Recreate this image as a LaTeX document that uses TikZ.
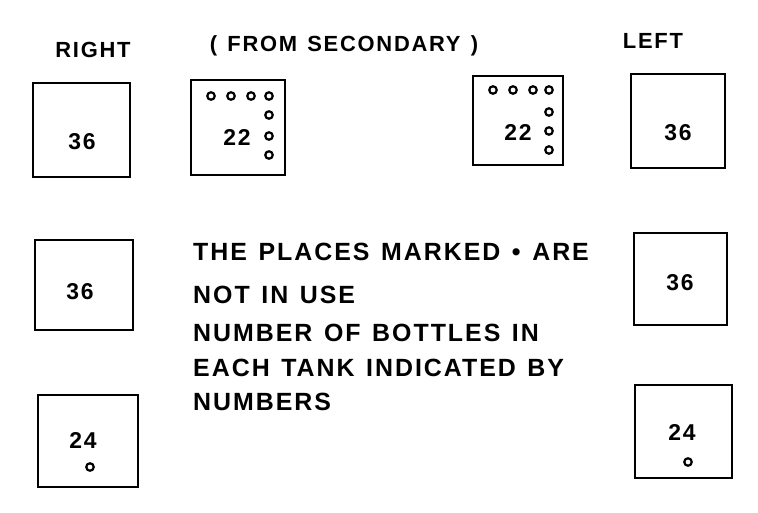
\documentclass[tikz,border=0pt]{standalone}
\usepackage{fontspec}
\newfontfamily\platefont[LetterSpace=8, WordSpace=1.3]{Liberation Sans}
\usetikzlibrary{positioning}
\tikzset{
  tank/.style={rectangle, draw, line width=2.8bp, inner sep=0pt},
  count/.style={font=\platefont\bfseries\fontsize{23}{26}\selectfont, inner sep=0pt},
  heading/.style={font=\platefont\bfseries\fontsize{22}{25}\selectfont, inner sep=0pt, anchor=base},
  note/.style={font=\platefont\bfseries\fontsize{25}{28}\selectfont, inner sep=0pt, anchor=west},
  bottle/.style={circle, draw, line width=2.2bp, inner sep=0pt, minimum size=7.5bp}
}

\begin{document}
\begin{tikzpicture}[x=1bp, y=-1bp]
  \useasboundingbox (0,0) rectangle (758,513);

  % headings
  \node[heading] (right) at (93,58) {RIGHT};
  \node[heading] (secondary) at (344,52) {( FROM SECONDARY )};
  \node[heading] (left) at (653,49) {LEFT};

  % right side tanks
  \node[tank, minimum width=97bp, minimum height=94bp] (rtop) at (81.5,130) {};
  \node[tank, minimum width=98bp, minimum height=90bp] (rmid) at (84,285) {};
  \node[tank, minimum width=100bp, minimum height=92bp] (rbot) at (88,441) {};
  \node[count] (rtopn) at (82,142) {36};
  \node[count] (rmidn) at (80,292) {36};
  \node[count] (rbotn) at (83,440) {24};
  \node[bottle] (rbotb) at (90,467) {};

  % secondary tanks
  \node[tank, minimum width=94bp, minimum height=95bp] (sone) at (238,127.5) {};
  \node[tank, minimum width=90bp, minimum height=89bp] (stwo) at (518,120.5) {};
  \node[count] (sonen) at (237,138) {22};
  \node[count] (stwon) at (518,133) {22};
  \foreach \x/\y [count=\i] in {211/96, 231/96, 251/96, 269/96, 269/115, 269/136, 269/155}
    \node[bottle] (sone\i) at (\x,\y) {};
  \foreach \x/\y [count=\i] in {493/90, 513/90, 533/90, 549/90, 549/112, 549/131, 549/150}
    \node[bottle] (stwo\i) at (\x,\y) {};

  % left side tanks
  \node[tank, minimum width=94bp, minimum height=94bp] (ltop) at (678,121) {};
  \node[tank, minimum width=93bp, minimum height=92bp] (lmid) at (680.5,279) {};
  \node[tank, minimum width=97bp, minimum height=93bp] (lbot) at (683.5,431.5) {};
  \node[count] (ltopn) at (678,133) {36};
  \node[count] (lmidn) at (680,283) {36};
  \node[count] (lbotn) at (682,432) {24};
  \node[bottle] (lbotb) at (688,462) {};

  % remarks
  \node[note] (noteA) at (193,252) {THE PLACES MARKED \textbullet{} ARE};
  \node[note] (noteB) at (193,295) {NOT IN USE};
  \node[note] (noteC) at (193,333) {NUMBER OF BOTTLES IN};
  \node[note] (noteD) at (193,368) {EACH TANK INDICATED BY};
  \node[note] (noteE) at (193,402) {NUMBERS};
\end{tikzpicture}
\end{document}
